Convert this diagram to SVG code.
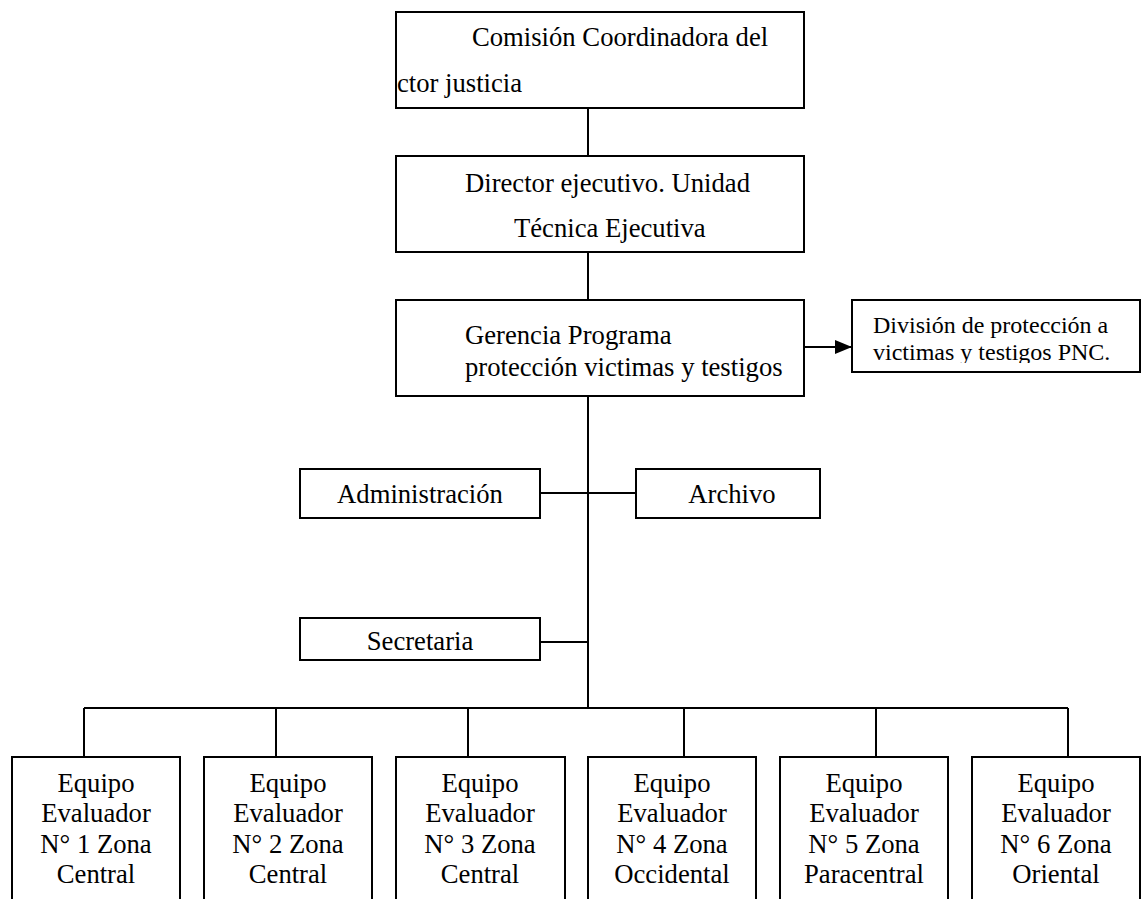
<svg xmlns="http://www.w3.org/2000/svg" width="1143" height="899" viewBox="0 0 1143 899">
<style>
.box{fill:#fff;stroke:#000;stroke-width:2}
.ln{fill:none;stroke:#000;stroke-width:2}
.t{font-family:"Liberation Serif","Times New Roman",serif;font-size:26.67px;fill:#000}
.ts{font-family:"Liberation Serif","Times New Roman",serif;font-size:24px;fill:#000}
.c{text-anchor:middle}
</style>
<defs>
<marker id="arr" markerWidth="17" markerHeight="14" refX="17" refY="7" orient="auto" markerUnits="userSpaceOnUse">
<path d="M0,0 L17,7 L0,14 Z" fill="#000"/>
</marker>
<clipPath id="clip1"><rect x="397" y="13" width="406" height="94"/></clipPath>
<clipPath id="clipDiv"><rect x="853" y="301" width="286" height="62"/></clipPath>
</defs>
<rect width="1143" height="899" fill="#fff"/>
<g id="connectors">
<line class="ln" x1="588" y1="108" x2="588" y2="156"/>
<line class="ln" x1="588" y1="252" x2="588" y2="300"/>
<line class="ln" x1="588" y1="396" x2="588" y2="708"/>
<line class="ln" x1="804" y1="347" x2="852" y2="347" stroke-width="3" marker-end="url(#arr)"/>
<line class="ln" x1="540" y1="493" x2="636" y2="493"/>
<line class="ln" x1="540" y1="642" x2="588" y2="642"/>
<line class="ln" x1="84" y1="708" x2="1068" y2="708"/>
<line class="ln" x1="84" y1="708" x2="84" y2="757"/>
<line class="ln" x1="276" y1="708" x2="276" y2="757"/>
<line class="ln" x1="468" y1="708" x2="468" y2="757"/>
<line class="ln" x1="684" y1="708" x2="684" y2="757"/>
<line class="ln" x1="876" y1="708" x2="876" y2="757"/>
<line class="ln" x1="1068" y1="708" x2="1068" y2="757"/>
</g>
<g id="n-comision">
<rect class="box" x="396" y="12" width="408" height="96"/>
<g clip-path="url(#clip1)">
<text class="t" x="472" y="46">Comisión Coordinadora del</text>
<text class="t" x="397" y="92">ctor justicia</text>
</g>
</g>
<g id="n-director">
<rect class="box" x="396" y="156" width="408" height="96"/>
<text class="t" x="465" y="192">Director ejecutivo. Unidad</text>
<text class="t" x="514" y="237">Técnica Ejecutiva</text>
</g>
<g id="n-gerencia">
<rect class="box" x="396" y="300" width="408" height="96"/>
<text class="t" x="465" y="344">Gerencia Programa</text>
<text class="t" x="465" y="376">protección victimas y testigos</text>
</g>
<g id="n-division">
<rect class="box" x="852" y="300" width="288" height="72"/>
<g clip-path="url(#clipDiv)">
<text class="ts" x="873" y="333">División de protección a</text>
<text class="ts" x="873" y="360">victimas y testigos PNC.</text>
</g>
</g>
<g id="n-administracion">
<rect class="box" x="300" y="469" width="240" height="49"/>
<text class="t c" x="420" y="503">Administración</text>
</g>
<g id="n-archivo">
<rect class="box" x="636" y="469" width="184" height="49"/>
<text class="t c" x="732" y="503">Archivo</text>
</g>
<g id="n-secretaria">
<rect class="box" x="300" y="618" width="240" height="42"/>
<text class="t c" x="420" y="650">Secretaria</text>
</g>
<g id="n-equipo1">
<rect class="box" x="12" y="757" width="168" height="160"/>
<text class="t c" x="96" y="792">Equipo</text>
<text class="t c" x="96" y="822">Evaluador</text>
<text class="t c" x="96" y="853">N° 1 Zona</text>
<text class="t c" x="96" y="883">Central</text>
</g>
<g id="n-equipo2">
<rect class="box" x="204" y="757" width="168" height="160"/>
<text class="t c" x="288" y="792">Equipo</text>
<text class="t c" x="288" y="822">Evaluador</text>
<text class="t c" x="288" y="853">N° 2 Zona</text>
<text class="t c" x="288" y="883">Central</text>
</g>
<g id="n-equipo3">
<rect class="box" x="396" y="757" width="169" height="160"/>
<text class="t c" x="480" y="792">Equipo</text>
<text class="t c" x="480" y="822">Evaluador</text>
<text class="t c" x="480" y="853">N° 3 Zona</text>
<text class="t c" x="480" y="883">Central</text>
</g>
<g id="n-equipo4">
<rect class="box" x="588" y="757" width="168" height="160"/>
<text class="t c" x="672" y="792">Equipo</text>
<text class="t c" x="672" y="822">Evaluador</text>
<text class="t c" x="672" y="853">N° 4 Zona</text>
<text class="t c" x="672" y="883">Occidental</text>
</g>
<g id="n-equipo5">
<rect class="box" x="780" y="757" width="168" height="160"/>
<text class="t c" x="864" y="792">Equipo</text>
<text class="t c" x="864" y="822">Evaluador</text>
<text class="t c" x="864" y="853">N° 5 Zona</text>
<text class="t c" x="864" y="883">Paracentral</text>
</g>
<g id="n-equipo6">
<rect class="box" x="972" y="757" width="168" height="160"/>
<text class="t c" x="1056" y="792">Equipo</text>
<text class="t c" x="1056" y="822">Evaluador</text>
<text class="t c" x="1056" y="853">N° 6 Zona</text>
<text class="t c" x="1056" y="883">Oriental</text>
</g>
</svg>
